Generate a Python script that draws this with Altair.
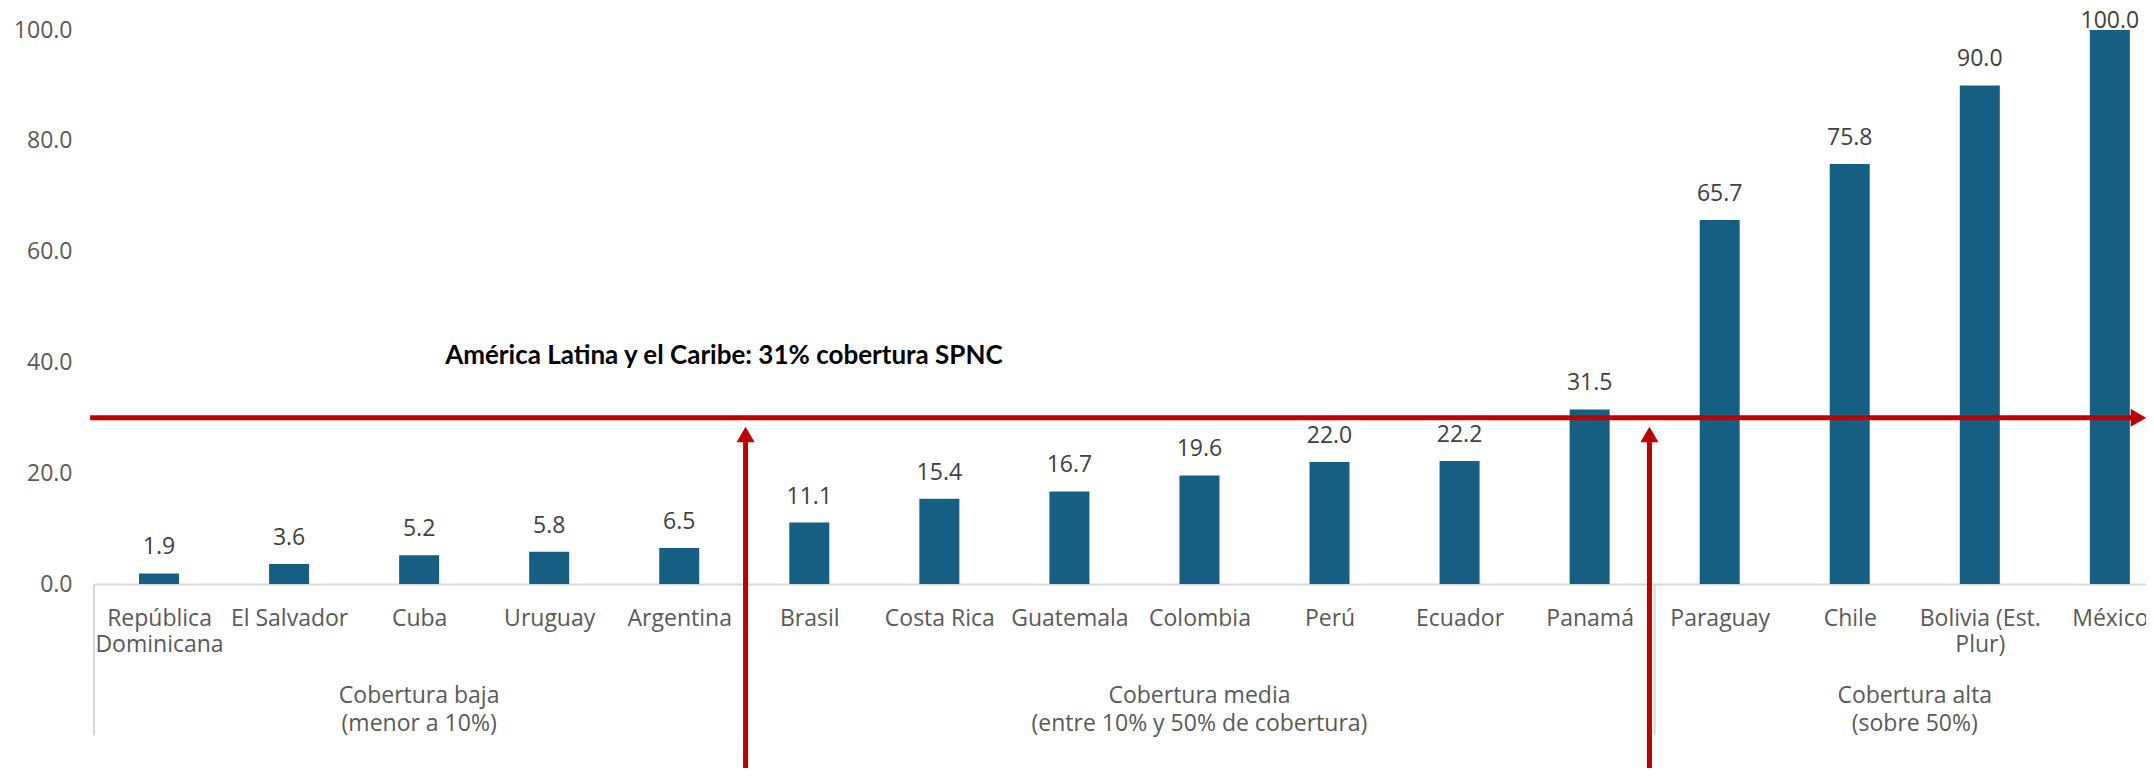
import json
import altair as alt
import pandas as pd

# ---- data ----
countries = ["República Dominicana", "El Salvador", "Cuba", "Uruguay", "Argentina",
             "Brasil", "Costa Rica", "Guatemala", "Colombia", "Perú", "Ecuador", "Panamá",
             "Paraguay", "Chile", "Bolivia (Est. Plur)", "México"]
country_label_lines = [["República", "Dominicana"], "El Salvador", "Cuba", "Uruguay",
                       "Argentina", "Brasil", "Costa Rica", "Guatemala", "Colombia", "Perú",
                       "Ecuador", "Panamá", "Paraguay", "Chile", ["Bolivia (Est.", "Plur)"],
                       "México"]
coverage = [1.9, 3.6, 5.2, 5.8, 6.5, 11.1, 15.4, 16.7, 19.6, 22.0, 22.2, 31.5,
            65.7, 75.8, 90.0, 100.0]

group_names = ["Cobertura baja\n(menor a 10%)",
               "Cobertura media\n(entre 10% y 50% de cobertura)",
               "Cobertura alta\n(sobre 50%)"]
group_start = [0, 5, 12]
group_end = [5, 12, 16]

ref_value = 30
ref_label = "América Latina y el Caribe: 31% cobertura SPNC"
y_ticks = [0, 20, 40, 60, 80, 100]

# annotation geometry (in axis units; one x unit = one country slot)
sep_positions = [0, 5, 12, 16]
sep_bottom = -27.3
arrow_x = [5.01, 11.96]
arrow_bottom = -35
arrow_tip = 27
hline_start, hline_end = -0.03, 15.72
group_label_y = -20.3
ref_label_x, ref_label_y = 2.70, 41.1
label_cap = 97
x_visible_end = 15.778   # the chart is cut at the right edge of the picture

FONT = "Open Sans"
BAR = "#156082"
RED = "#C00000"
GRAY_TXT = "#595959"
GRID = "#D9D9D9"

n = len(countries)
df = pd.DataFrame({"country": countries, "value": coverage,
                   "pos": [i + 0.5 for i in range(n)]})
groups = pd.DataFrame({"name": group_names, "start": group_start, "end": group_end})
seps = pd.DataFrame({"x": sep_positions, "top": [0] * len(sep_positions),
                     "bottom": [sep_bottom] * len(sep_positions)})
varrows = pd.DataFrame({"x": arrow_x, "bottom": [arrow_bottom] * 2, "tip": [arrow_tip] * 2})
hline = pd.DataFrame({"x1": [hline_start], "x2": [hline_end], "y": [ref_value]})
rtext = pd.DataFrame({"x": [ref_label_x], "y": [ref_label_y], "t": [ref_label]})

yscale = alt.Scale(domain=[0, 100], nice=False, zero=False, padding=0)
yaxis = alt.Axis(values=y_ticks, format=".1f", title=None, grid=False, domain=False,
                 ticks=False, labelFont=FONT, labelFontSize=23, labelColor=GRAY_TXT,
                 labelPadding=22)
xscale = alt.Scale(domain=[0, x_visible_end], nice=False, zero=False, padding=0)

label_expr = f"{json.dumps(country_label_lines, ensure_ascii=False)}[floor(datum.value)]"
xaxis = alt.Axis(title=None, values=[i + 0.5 for i in range(n)], labelExpr=label_expr,
                 labelAngle=0, ticks=False, grid=False, domain=True, domainColor=GRID,
                 domainWidth=2, labelFont=FONT, labelFontSize=23, labelColor=GRAY_TXT,
                 labelPadding=23, labelLineHeight=26, labelOverlap=False, labelFlush=False,
                 labelBound=False)


def X(field):
    return alt.X(field, scale=xscale, axis=xaxis)


def Y(field):
    return alt.Y(field, scale=yscale, axis=yaxis)


bars = alt.Chart(df).mark_bar(size=40, color=BAR).encode(
    x=X("pos:Q"), y=Y("value:Q"))

labels = alt.Chart(df).transform_calculate(
    ly=f"min(datum.value, {label_cap})"
).mark_text(dy=-26, baseline="middle", font=FONT, fontSize=23, color="#404040").encode(
    x=X("pos:Q"), y=Y("ly:Q"), text=alt.Text("value:Q", format=".1f"))

sep_layer = alt.Chart(seps).mark_rule(color=GRID, strokeWidth=2).encode(
    x=X("x:Q"), y=Y("top:Q"), y2="bottom:Q")

group_layer = alt.Chart(groups).transform_calculate(
    c="(datum.start + datum.end) / 2", gy=f"{group_label_y}"
).mark_text(baseline="middle", align="center", font=FONT, fontSize=23, color=GRAY_TXT,
            lineBreak="\n", lineHeight=28).encode(
    x=X("c:Q"), y=Y("gy:Q"), text="name:N")

hline_layer = alt.Chart(hline).mark_rule(color=RED, strokeWidth=5).encode(
    x=X("x1:Q"), x2="x2:Q", y=Y("y:Q"))

hhead = alt.Chart(hline).mark_point(shape="triangle-right", size=324, filled=True,
                                    color=RED, opacity=1).encode(
    x=X("x2:Q"), y=Y("y:Q"))

varrow_layer = alt.Chart(varrows).mark_rule(color=RED, strokeWidth=5).encode(
    x=X("x:Q"), y=Y("bottom:Q"), y2="tip:Q")

vhead = alt.Chart(varrows).mark_point(shape="triangle-up", size=324, filled=True,
                                      color=RED, opacity=1).encode(
    x=X("x:Q"), y=Y("tip:Q"))

rtext_layer = alt.Chart(rtext).mark_text(align="left", baseline="middle", font="Lato",
                                         fontWeight="bold", fontSize=26, color="black").encode(
    x=X("x:Q"), y=Y("y:Q"), text="t:N")

chart = alt.layer(bars, labels, sep_layer, group_layer, hline_layer, hhead,
                  varrow_layer, vhead, rtext_layer).properties(
    width=2052, height=554,
    autosize=alt.AutoSizeParams(type="none"),
    padding={"left": 86, "top": 22, "right": 0, "bottom": 184},
    background="white",
).configure_view(stroke=None)

chart.save("out.html", embed_options={"renderer": "svg", "actions": False})
